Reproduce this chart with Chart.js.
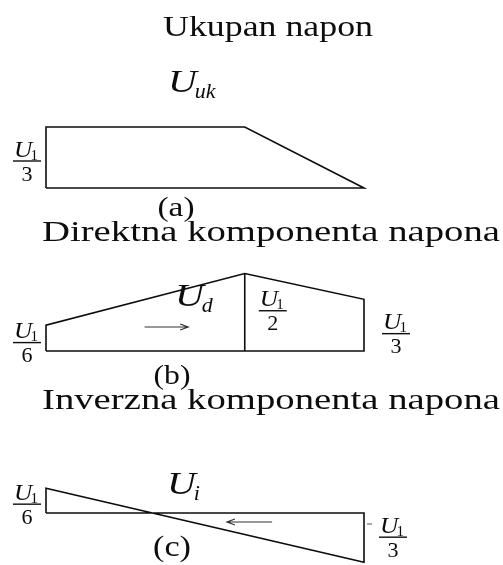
<!DOCTYPE html>
<html>
<head>
<meta charset="utf-8">
<script src="https://cdn.jsdelivr.net/npm/chart.js@4/dist/chart.umd.min.js"></script>
<style>
  html, body { margin: 0; padding: 0; background: #fff; }
  #wrap { position: relative; width: 503px; height: 565px; }
</style>
</head>
<body>
<div id="wrap"><canvas id="dijagram" width="503" height="565"></canvas></div>
<script>
// polozaj duz voda: pocetak, tacka preloma, kraj
const polozaj = [0, 0.625, 1];
// naponi u jedinicama U1
const ukupan = [1/3, 1/3, 0];
const direktna = [1/6, 1/2, 1/3];
const inverznaPolozaj = [0, 1];
const inverzna = [1/6, -1/3];

const naslovi = ['Ukupan napon', 'Direktna komponenta napona', 'Inverzna komponenta napona'];
const podslike = ['(a)', '(b)', '(c)'];
const simboli = [['U', 'uk'], ['U', 'd'], ['U', 'i']];

const W = 503, H = 565;
const X0 = 46, X1 = 364;          // pikseli pocetka i kraja voda
const panel = [
    { id: 'ya', base: 188, k: 183 },
    { id: 'yb', base: 351, k: 155 },
    { id: 'yc', base: 513, k: 148 }
];
const boja = '#0d0d0d';
const serif = '"Liberation Serif", "DejaVu Serif", serif';

// zatvoreni obris dijagrama iznad/ispod nulte linije
function obris(xs, ys) {
    const pts = [{ x: xs[0], y: 0 }];
    xs.forEach((x, i) => pts.push({ x: x, y: ys[i] }));
    pts.push({ x: xs[xs.length - 1], y: 0 });
    pts.push({ x: xs[0], y: 0 });
    return pts;
}

function linija(data, yAxisID) {
    return {
        data: data, yAxisID: yAxisID, showLine: true,
        borderColor: boja, borderWidth: 1.6, pointRadius: 0,
        tension: 0, fill: false, clip: false
    };
}

function tekst(ctx, s, x, y, font, align, sirina) {
    ctx.save();
    ctx.font = font;
    ctx.textAlign = 'left';
    ctx.textBaseline = 'alphabetic';
    const w = ctx.measureText(s).width;
    const sx = sirina ? sirina / w : 1;
    const lijevo = align === 'center' ? x - w * sx / 2 : x;
    ctx.translate(lijevo, y);
    ctx.scale(sx, 1);
    ctx.fillText(s, 0, 0);
    ctx.restore();
    return w * sx;
}

// U sa indeksom
function simbol(ctx, par, x, y, vel) {
    const w = tekst(ctx, par[0], x, y, 'italic ' + vel + 'px ' + serif, 'left', vel * 0.9);
    tekst(ctx, par[1], x + w - 2, y + vel * 0.2, 'italic ' + Math.round(vel * 0.68) + 'px ' + serif, 'left');
}

// razlomak U1/n
function razlomak(ctx, v, cx, barY) {
    const n = Math.round(1 / Math.abs(v));
    ctx.save();
    ctx.font = 'italic 23px ' + serif;
    const wu = ctx.measureText('U').width * 1.1;
    ctx.font = '15px ' + serif;
    const w1 = ctx.measureText('1').width;
    const lijevo = cx - (wu + w1) / 2;
    tekst(ctx, 'U', lijevo, barY - 4, 'italic 23px ' + serif, 'left', wu);
    tekst(ctx, '1', lijevo + wu - 2, barY - 1, '15px ' + serif, 'left');
    ctx.strokeStyle = boja;
    ctx.lineWidth = 1.4;
    ctx.beginPath();
    ctx.moveTo(cx - 14, barY + 0.5);
    ctx.lineTo(cx + 14, barY + 0.5);
    ctx.stroke();
    tekst(ctx, String(n), cx, barY + 20, '22px ' + serif, 'center');
    ctx.restore();
}

function strelica(ctx, xa, xb, y) {
    const smjer = Math.sign(xb - xa);
    ctx.save();
    ctx.strokeStyle = '#333';
    ctx.lineWidth = 1.2;
    ctx.beginPath();
    ctx.moveTo(xa, y);
    ctx.lineTo(xb, y);
    ctx.moveTo(xb - smjer * 8, y - 3);
    ctx.lineTo(xb, y);
    ctx.lineTo(xb - smjer * 8, y + 3);
    ctx.stroke();
    ctx.restore();
}

const oznake = {
    id: 'oznake',
    afterDraw(chart) {
        const ctx = chart.ctx;
        const sx = chart.scales.x;
        const ya = chart.scales.ya, yb = chart.scales.yb, yc = chart.scales.yc;
        const px = v => sx.getPixelForValue(v);
        ctx.save();
        ctx.fillStyle = boja;

        // naslovi i oznake podslika
        tekst(ctx, naslovi[0], 268, 36, '29px ' + serif, 'center', 210);
        tekst(ctx, naslovi[1], 271, 241, '29px ' + serif, 'center', 458);
        tekst(ctx, naslovi[2], 271, 409, '29px ' + serif, 'center', 458);
        tekst(ctx, podslike[0], 176, 216, '27px ' + serif, 'center', 37);
        tekst(ctx, podslike[1], 172, 384, '27px ' + serif, 'center', 37);
        tekst(ctx, podslike[2], 172, 556, '30px ' + serif, 'center', 38);

        // (a) ukupni napon
        simbol(ctx, simboli[0], 168, 92, 32);
        razlomak(ctx, ukupan[0], px(polozaj[0]) - 19, ya.getPixelForValue(ukupan[0] / 2) + 3);

        // (b) direktna komponenta
        simbol(ctx, simboli[1], 175, 306, 32);
        razlomak(ctx, direktna[0], px(polozaj[0]) - 19, yb.getPixelForValue(direktna[0] / 2) + 4);
        razlomak(ctx, direktna[1], px(polozaj[1]) + 28, yb.getPixelForValue(direktna[1] / 2) - 2);
        razlomak(ctx, direktna[2], px(polozaj[2]) + 32, yb.getPixelForValue(direktna[2] / 2) + 8);
        strelica(ctx, px(0.31), px(0.447), yb.getPixelForValue(0) - 24);

        // (c) inverzna komponenta
        simbol(ctx, simboli[2], 167, 494, 32);
        razlomak(ctx, inverzna[0], px(inverznaPolozaj[0]) - 19, yc.getPixelForValue(inverzna[0] / 2) + 3);
        razlomak(ctx, inverzna[1], px(inverznaPolozaj[1]) + 29, yc.getPixelForValue(inverzna[1] / 2) - 1);
        strelica(ctx, px(0.711), px(0.569), yc.getPixelForValue(0) + 9);
        ctx.strokeStyle = '#555';
        ctx.lineWidth = 1;
        ctx.beginPath();
        ctx.moveTo(px(1) + 3, yc.getPixelForValue(0) + 11);
        ctx.lineTo(px(1) + 8, yc.getPixelForValue(0) + 11);
        ctx.stroke();

        ctx.restore();
    }
};

const skale = {
    x: { type: 'linear', display: false, min: -X0 / (X1 - X0), max: (W - X0) / (X1 - X0) }
};
panel.forEach(p => {
    skale[p.id] = { type: 'linear', display: false, min: -(H - p.base) / p.k, max: p.base / p.k };
});

new Chart(document.getElementById('dijagram').getContext('2d'), {
    type: 'scatter',
    data: {
        datasets: [
            linija(obris(polozaj, ukupan), 'ya'),
            linija(obris(polozaj, direktna), 'yb'),
            linija([{ x: polozaj[1], y: 0 }, { x: polozaj[1], y: direktna[1] }], 'yb'),
            linija(obris(inverznaPolozaj, inverzna), 'yc')
        ]
    },
    options: {
        responsive: false,
        animation: false,
        layout: { padding: 0 },
        scales: skale,
        plugins: { legend: { display: false }, tooltip: { enabled: false } }
    },
    plugins: [oznake]
});
</script>
</body>
</html>
